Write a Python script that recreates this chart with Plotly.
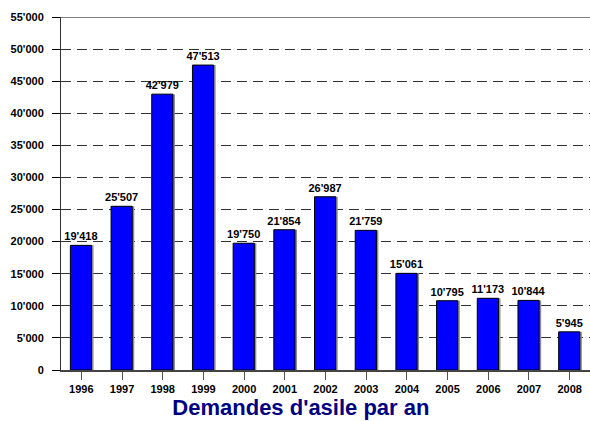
import plotly.graph_objs as go

years = ['1996', '1997', '1998', '1999', '2000', '2001', '2002',
         '2003', '2004', '2005', '2006', '2007', '2008']
demandes = [19418, 25507, 42979, 47513, 19750, 21854, 26987,
            21759, 15061, 10795, 11173, 10844, 5945]

pos = list(range(len(years)))

fig = go.Figure()

# petite ombre grise derriere les barres
fig.add_trace(go.Bar(x=pos, y=demandes, width=0.52, offset=-0.22,
                     marker=dict(color='#8c8c8c', line=dict(width=0)),
                     hoverinfo='skip', showlegend=False))

fig.add_trace(go.Bar(x=pos, y=demandes, width=0.52, offset=-0.27,
                     marker=dict(color='#0000ff', line=dict(color='black', width=1)),
                     texttemplate='<b>%{y:,d}</b>', textposition='outside',
                     constraintext='none',
                     textfont=dict(family='Arial', size=11, color='black'),
                     cliponaxis=False, name='Demandes', showlegend=False))

fig.update_layout(
    width=590, height=421,
    margin=dict(l=61, r=0, t=17, b=51),
    barmode='overlay',
    separators=".'",
    plot_bgcolor='white', paper_bgcolor='white',
    font=dict(family='Arial', color='black'),
    title=dict(text="<b>Demandes d'asile par an</b>", x=0.51, xanchor='center',
               y=0.014, yanchor='bottom',
               font=dict(family='Arial', size=22, color='#000080')),
)

fig.update_xaxes(
    range=[-0.5, len(years) - 0.5],
    tickmode='array', tickvals=pos, ticktext=['<b>%s</b>' % y for y in years],
    tickfont=dict(size=11), ticks='outside', ticklen=8, tickcolor='#555',
    showline=True, linecolor='#444', linewidth=2, showgrid=False,
)

fig.update_yaxes(
    range=[0, 55000], tickmode='linear', tick0=0, dtick=5000,
    tickformat=',d', tickfont=dict(size=11), tickprefix='<b>', ticksuffix='</b>',
    ticks='outside', ticklen=8, tickcolor='black', ticklabelstandoff=6,
    showline=True, linecolor='#333', linewidth=1,
    showgrid=True, gridcolor='#333', gridwidth=1, griddash='10px,6px',
    zeroline=False,
)

# ligne du haut (55'000) continue
fig.add_shape(type='line', xref='paper', yref='y', x0=0, x1=1, y0=55000, y1=55000,
              line=dict(color='black', width=1))

fig.write_html("out.html", config={'displayModeBar': False},
               post_script="document.body.style.margin='0';document.body.style.overflow='hidden';")
